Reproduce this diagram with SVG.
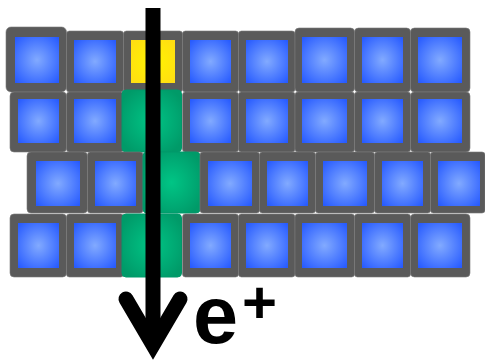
<svg xmlns="http://www.w3.org/2000/svg" width="485" height="361" viewBox="0 0 485 361">
<defs>
<radialGradient id="gb" cx="50%" cy="50%" r="70%">
<stop offset="0" stop-color="#82aaff"/>
<stop offset="1" stop-color="#2458ff"/>
</radialGradient>
<radialGradient id="gy" cx="50%" cy="50%" r="70%">
<stop offset="0" stop-color="#fff400"/>
<stop offset="1" stop-color="#ffdc14"/>
</radialGradient>
<radialGradient id="gg" cx="50%" cy="50%" r="60%">
<stop offset="0" stop-color="#00c585"/>
<stop offset="0.7" stop-color="#00a772"/>
<stop offset="1" stop-color="#009a68"/>
</radialGradient>
</defs>
<style>
.o{fill:#5a5a5a;stroke:#7a7a7a;stroke-width:0.6}
.b{fill:url(#gb)}
.y{fill:url(#gy)}
.g{fill:url(#gg);stroke:#00996a;stroke-width:1}
.ar{fill:none;stroke:#000;stroke-width:15}
.t{font-family:"Liberation Sans",Arial,sans-serif;font-weight:bold;fill:#000}
</style>
<g id="row1">
<rect class="o" x="6" y="27" width="60.5" height="65" rx="5"/><rect class="b" x="15" y="37" width="44" height="46"/>
<rect class="o" x="66.5" y="31" width="57" height="61" rx="3"/><rect class="b" x="74" y="40" width="42" height="43"/>
<rect class="o" x="123.5" y="31" width="59" height="61" rx="3"/><rect class="y" x="131" y="40" width="44" height="43"/>
<rect class="o" x="182.5" y="31" width="56" height="61" rx="3"/><rect class="b" x="190" y="40" width="41" height="43"/>
<rect class="o" x="238.5" y="31" width="56.5" height="61" rx="3"/><rect class="b" x="246" y="40" width="42" height="43"/>
<rect class="o" x="295" y="28" width="59.5" height="64" rx="4"/><rect class="b" x="302" y="37" width="45" height="46"/>
<rect class="o" x="354.5" y="28" width="56" height="64" rx="4"/><rect class="b" x="362" y="37" width="41" height="46"/>
<rect class="o" x="410.5" y="28" width="59.5" height="64" rx="4"/><rect class="b" x="418" y="37" width="44" height="46"/>
</g>
<g id="row2">
<rect class="o" x="10" y="92" width="56.5" height="60" rx="4"/><rect class="b" x="18" y="99" width="41" height="44"/>
<rect class="o" x="66.5" y="92" width="57" height="60" rx="3"/><rect class="b" x="74" y="99" width="42" height="44"/>
<rect class="g" x="122" y="90" width="59.5" height="62" rx="4"/>
<rect class="o" x="182.5" y="92" width="56" height="60" rx="3"/><rect class="b" x="190" y="99" width="41" height="44"/>
<rect class="o" x="238.5" y="92" width="56.5" height="60" rx="3"/><rect class="b" x="246" y="99" width="42" height="44"/>
<rect class="o" x="295" y="92" width="59.5" height="60" rx="3"/><rect class="b" x="302" y="99" width="45" height="44"/>
<rect class="o" x="354.5" y="92" width="56" height="60" rx="3"/><rect class="b" x="362" y="99" width="41" height="44"/>
<rect class="o" x="410.5" y="92" width="59.5" height="60" rx="4"/><rect class="b" x="418" y="99" width="44" height="44"/>
</g>
<g id="row3">
<rect class="o" x="27" y="152" width="60.5" height="61" rx="4"/><rect class="b" x="36" y="161" width="44" height="45"/>
<rect class="o" x="87.5" y="152" width="55.5" height="61" rx="3"/><rect class="b" x="95" y="161" width="41" height="45"/>
<rect class="g" x="143" y="152" width="57" height="61" rx="4"/>
<rect class="o" x="200" y="152" width="59.5" height="61" rx="3"/><rect class="b" x="208" y="161" width="44" height="45"/>
<rect class="o" x="259.5" y="152" width="56" height="61" rx="3"/><rect class="b" x="267" y="161" width="41" height="45"/>
<rect class="o" x="315.5" y="152" width="59" height="61" rx="3"/><rect class="b" x="323" y="161" width="44" height="45"/>
<rect class="o" x="374.5" y="152" width="56" height="61" rx="3"/><rect class="b" x="382" y="161" width="41" height="45"/>
<rect class="o" x="430.5" y="152" width="54.5" height="61" rx="3"/><rect class="b" x="438" y="161" width="42" height="45"/>
</g>
<g id="row4">
<rect class="o" x="10" y="214" width="56.5" height="63" rx="4"/><rect class="b" x="18" y="223" width="41" height="45"/>
<rect class="o" x="66.5" y="214" width="57" height="63" rx="3"/><rect class="b" x="74" y="223" width="42" height="45"/>
<rect class="g" x="122" y="214" width="59.5" height="63" rx="4"/>
<rect class="o" x="182.5" y="214" width="56" height="63" rx="3"/><rect class="b" x="190" y="223" width="41" height="45"/>
<rect class="o" x="238.5" y="214" width="56.5" height="63" rx="3"/><rect class="b" x="246" y="223" width="42" height="45"/>
<rect class="o" x="295" y="214" width="59.5" height="63" rx="3"/><rect class="b" x="302" y="223" width="45" height="45"/>
<rect class="o" x="354.5" y="214" width="56" height="63" rx="3"/><rect class="b" x="362" y="223" width="41" height="45"/>
<rect class="o" x="410.5" y="214" width="59.5" height="63" rx="4"/><rect class="b" x="418" y="223" width="44" height="45"/>
</g>
<g id="connectors">
<line class="ar" x1="153" y1="8" x2="153" y2="345"/>
<polyline class="ar" points="126,299 153,345 180,299" stroke-linecap="round" stroke-linejoin="miter" stroke-miterlimit="10"/>
</g>
<g id="label">
<text class="t" x="193" y="343" font-size="81">e</text>
<text class="t" x="242" y="323" font-size="60">+</text>
</g>
</svg>
